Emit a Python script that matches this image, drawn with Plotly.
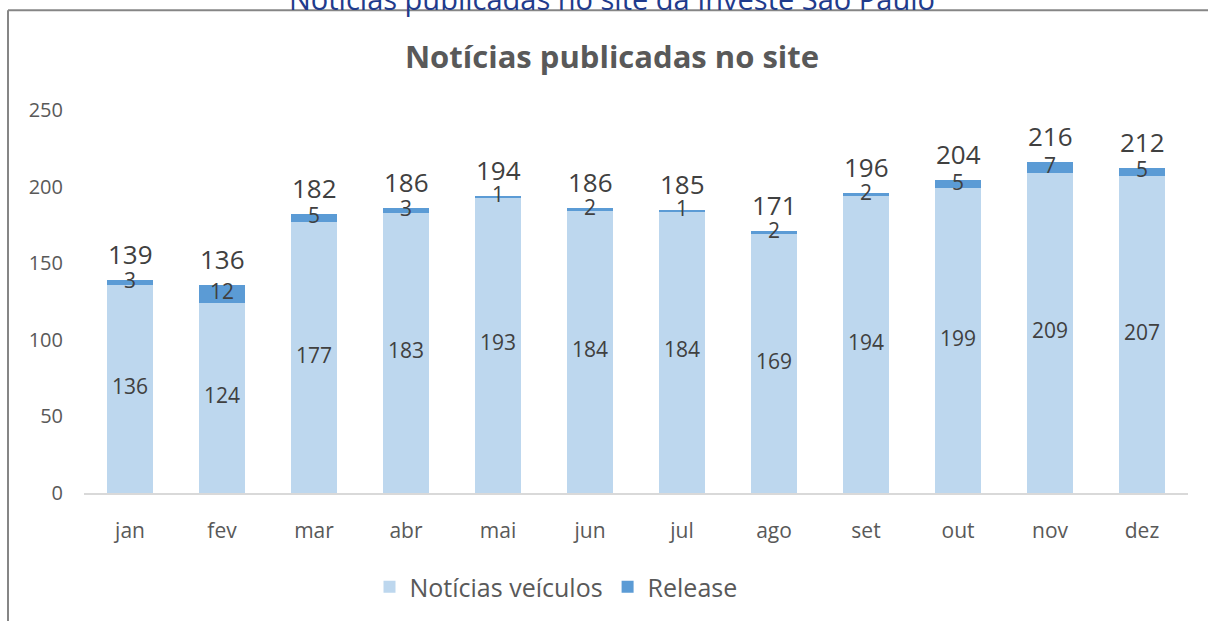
import plotly.graph_objects as go

months = ["jan", "fev", "mar", "abr", "mai", "jun", "jul", "ago", "set", "out", "nov", "dez"]
noticias_veiculos = [136, 124, 177, 183, 193, 184, 184, 169, 194, 199, 209, 207]
release = [3, 12, 5, 3, 1, 2, 1, 2, 2, 5, 7, 5]
totals = [139, 136, 182, 186, 194, 186, 185, 171, 196, 204, 216, 212]

FONT = "Open Sans"
TXT = "#404040"
GRAY = "#595959"

fig = go.Figure()
fig.add_trace(go.Bar(x=months, y=noticias_veiculos, name="Notícias veículos",
                     marker=dict(color="#BDD7EE", line=dict(width=0))))
fig.add_trace(go.Bar(x=months, y=release, name="Release",
                     marker=dict(color="#5B9BD5", line=dict(width=0))))

# labels
fig.add_trace(go.Scatter(x=months, y=[v / 2 for v in noticias_veiculos], mode="text",
                         text=[str(v) for v in noticias_veiculos], showlegend=False,
                         textfont=dict(family=FONT, size=21, color=TXT), hoverinfo="skip"))
fig.add_trace(go.Scatter(x=months, y=[v + r / 2 for v, r in zip(noticias_veiculos, release)],
                         mode="text", text=[str(r) for r in release], showlegend=False,
                         textfont=dict(family=FONT, size=21, color=TXT), hoverinfo="skip"))

L, R, T, B = 84, 20, 110, 127
W, H = 1208, 621
pw, ph = W - L - R, H - T - B

def px(x):
    return (x - L) / pw

def py(y):
    return (H - B - y) / ph

annotations = [
    dict(x=m, y=t, xref="x", yref="y", text=str(t), showarrow=False,
         yanchor="middle", yshift=26, font=dict(family=FONT, size=26, color=TXT))
    for m, t in zip(months, totals)
]
annotations.append(
    dict(text="Notícias publicadas no site da Investe São Paulo", xref="paper", yref="paper",
         x=px(612), y=py(-2), xanchor="center", yanchor="middle", showarrow=False,
         font=dict(family=FONT, size=29, color="#1F3B8C"))
)

fig.update_layout(
    width=W, height=H,
    margin=dict(l=L, r=R, t=T, b=B),
    barmode="stack", bargap=0.5,
    plot_bgcolor="white", paper_bgcolor="white",
    font=dict(family=FONT, color=GRAY),
    title=dict(text="<b>Notícias publicadas no site</b>", x=612 / W, xanchor="center",
               y=1 - 57 / H, yanchor="middle",
               font=dict(family=FONT, size=31, color=GRAY)),
    xaxis=dict(range=[-0.5, len(months) - 0.5], showgrid=False, showline=True,
               linecolor="#D9D9D9", linewidth=2,
               tickfont=dict(family=FONT, size=21, color=GRAY), ticks="",
               ticklabelstandoff=18),
    yaxis=dict(range=[0, 250], dtick=50, showgrid=False, showline=False, zeroline=False,
               tickfont=dict(family=FONT, size=20, color=GRAY), ticks="",
               ticklabelstandoff=20),
    legend=dict(orientation="h", x=px(556), xanchor="center", y=py(587), yanchor="middle",
                font=dict(family=FONT, size=25, color=GRAY), traceorder="normal",
                itemwidth=30),
    shapes=[
        dict(type="line", xref="paper", yref="paper", x0=px(8), x1=px(1215), y0=py(10), y1=py(10),
             line=dict(color="#868686", width=2)),
        dict(type="line", xref="paper", yref="paper", x0=px(8), x1=px(8), y0=py(10), y1=py(630),
             line=dict(color="#868686", width=2)),
    ],
    annotations=annotations,
)

fig.write_html("out.html", config={"displayModeBar": False},
               post_script="document.body.style.margin='0';document.body.style.overflow='hidden';")
